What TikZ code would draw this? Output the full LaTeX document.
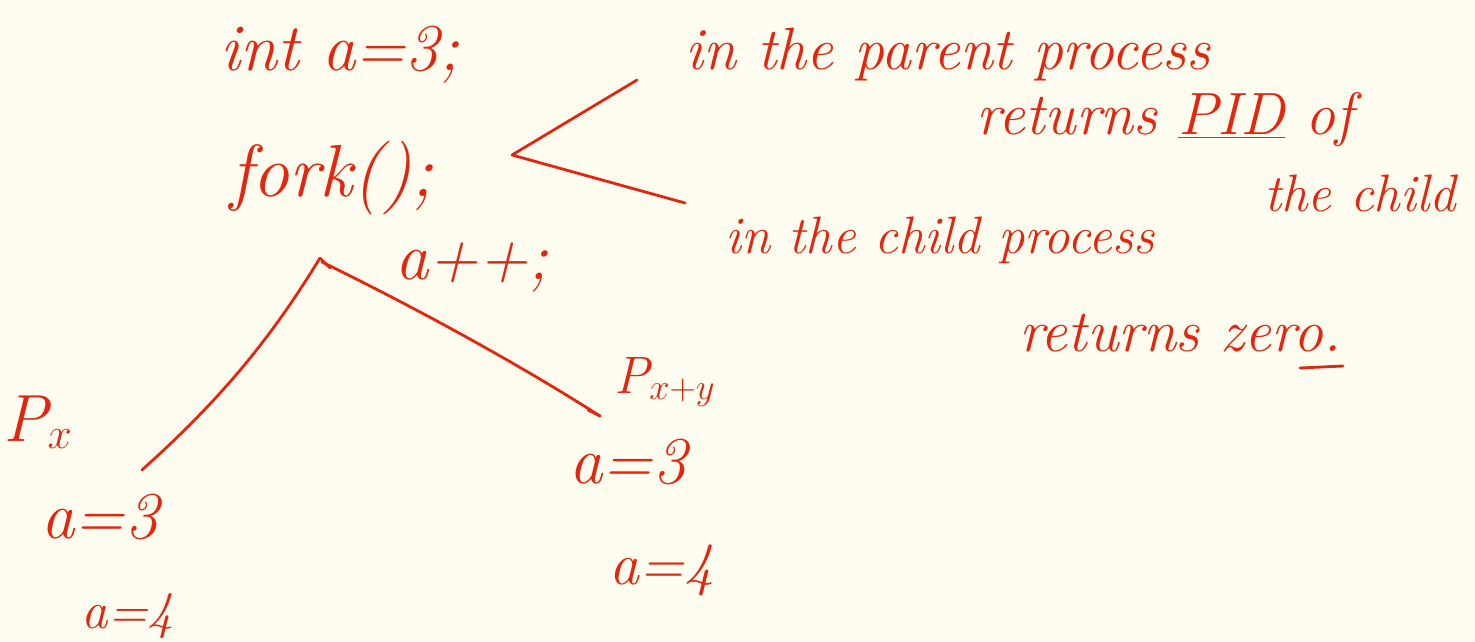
\documentclass[tikz,border=0pt]{standalone}
\usepackage{fontspec}
\definecolor{paper}{HTML}{FFFDF0}
\definecolor{ink}{HTML}{E3260F}
\begin{document}
\begin{tikzpicture}[x=0.02cm,y=-0.02cm,
  hand/.style={text=ink,inner sep=0pt,font=\itshape\fontsize{30}{36}\selectfont},
  mid/.style={hand,font=\itshape\fontsize{34}{40}\selectfont},
  big/.style={hand,font=\itshape\fontsize{38}{44}\selectfont},
  stroke/.style={draw=ink,line width=1.6pt,line cap=round,line join=round}]
\fill[paper] (0,0) rectangle (1475,642);
\useasboundingbox (0,0) rectangle (1475,642);
% code
\node[big] (inta) at (340,55) {int a=3;};
\node[big,font=\itshape\fontsize{42}{48}\selectfont] (fork) at (332,178) {fork();};
\node[big] (app) at (472,268) {a++;};
% explanation
\node[mid] (parent) at (948,55) {in the parent process};
\node[mid] (retpid) at (1165,120) {returns \underline{PID} of};
\node[hand] (thechild) at (1360,193) {the child};
\node[hand] (child) at (940,240) {in the child process};
\node[mid] (retzero) at (1180,333) {returns zero.};
\coordinate (zu1) at (1300,368);
\coordinate (zu2) at (1343,366);
\draw[stroke] (zu1) -- (zu2);
% branch from fork
\coordinate (fj) at (512,155);
\coordinate (fp) at (637,80);
\coordinate (fc) at (685,203);
\draw[stroke] (fp) -- (fj) -- (fc);
% process tree
\coordinate (apex) at (320,258);
\coordinate (lend) at (142,470);
\coordinate (rend) at (600,416);
\draw[stroke] (lend) .. controls (220,400) and (270,340) .. (apex);
\draw[stroke] (apex) -- (330,268);
\draw[stroke] (322,262) .. controls (420,310) and (520,365) .. (rend);
\draw[stroke] (588,410) -- (rend);
\node[big] (px) at (38,422) {P$_{x}$};
\node[hand] (pxy) at (665,382) {P$_{x+y}$};
\node[big] (la3) at (100,517) {a=3};
\node[hand] (la4) at (128,616) {a=4};
\node[big] (ra3) at (628,462) {a=3};
\node[mid] (ra4) at (662,570) {a=4};
\end{tikzpicture}
\end{document}
